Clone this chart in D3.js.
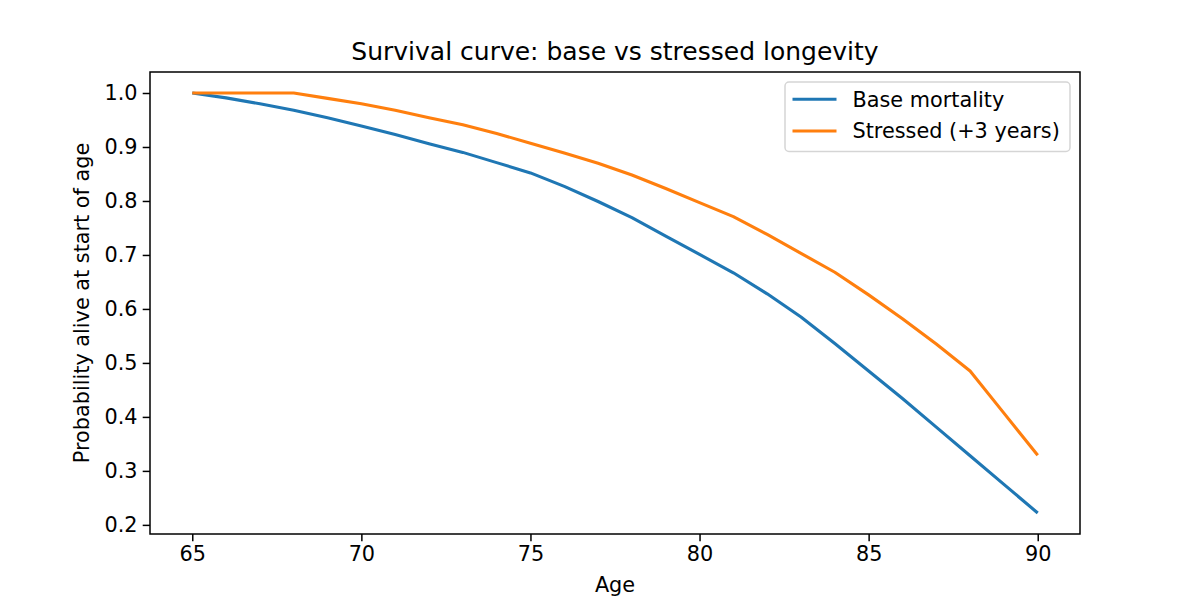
<!DOCTYPE html>
<html>
<head>
<meta charset="utf-8">
<script src="https://cdn.jsdelivr.net/npm/d3@7"></script>
<style>
	body { margin: 0; background: #fff; }
	svg { font-family: 'DejaVu Sans', sans-serif; }
</style>
</head>
<body>
<svg></svg>
<script>
const ages = [65, 66, 67, 68, 69, 70, 71, 72, 73, 74, 75, 76, 77, 78, 79, 80, 81, 82, 83, 84, 85, 86, 87, 88, 89, 90]

const baseSurvival = [1.000, 0.991, 0.980, 0.968, 0.954, 0.939, 0.923, 0.906, 0.890, 0.871, 0.852, 0.827,
	0.799, 0.769, 0.735, 0.701, 0.667, 0.628, 0.585, 0.536, 0.485, 0.434, 0.381, 0.328, 0.275, 0.222]

const stressedSurvival = [1.000, 1.000, 1.000, 1.000, 0.990, 0.980, 0.968, 0.954, 0.941, 0.925, 0.907, 0.889,
	0.870, 0.848, 0.823, 0.797, 0.771, 0.738, 0.703, 0.668, 0.626, 0.582, 0.535, 0.485, 0.407, 0.329]

const xTicks = [65, 70, 75, 80, 85, 90]
const yTicks = [0.2, 0.3, 0.4, 0.5, 0.6, 0.7, 0.8, 0.9, 1.0]

const seriesNames = ['Base mortality', 'Stressed (+3 years)']
const colors = ['#1f77b4', '#ff7f0e']

const width = 1200,
	height = 600,
	margin = { left: 150, right: 120, top: 72, bottom: 66 },
	fontSize = 20.8,
	lineW = 3.1

const series = [baseSurvival, stressedSurvival].map((vals, i) => ({
	name: seriesNames[i],
	color: colors[i],
	points: ages.map((a, j) => ({ age: a, p: vals[j] }))
}))

// 5% padding on both axes, like matplotlib's default margins
const xExt = d3.extent(ages)
const xPad = (xExt[1] - xExt[0]) * 0.05
const yExt = d3.extent(baseSurvival.concat(stressedSurvival))
const yPad = (yExt[1] - yExt[0]) * 0.05

const x = d3
	.scaleLinear()
	.domain([xExt[0] - xPad, xExt[1] + xPad])
	.range([margin.left, width - margin.right])

const y = d3
	.scaleLinear()
	.domain([yExt[0] - yPad, yExt[1] + yPad])
	.range([height - margin.bottom, margin.top])

const svg = d3.select('svg')
	.attr('width', width)
	.attr('height', height)

const line = d3.line()
	.x(d => x(d.age))
	.y(d => y(d.p))

svg.append('g')
	.selectAll('path')
	.data(series)
	.enter()
	.append('path')
	.attr('fill', 'none')
	.attr('stroke', d => d.color)
	.attr('stroke-width', lineW)
	.attr('stroke-linejoin', 'round')
	.attr('stroke-linecap', 'butt')
	.attr('d', d => line(d.points))

const xAxis = svg.append('g')
	.attr('transform', 'translate(0,' + (height - margin.bottom) + ')')
	.call(d3.axisBottom(x).tickValues(xTicks).tickFormat(d3.format('d')).tickSize(7.3).tickPadding(5.2))

const yAxis = svg.append('g')
	.attr('transform', 'translate(' + margin.left + ',0)')
	.call(d3.axisLeft(y).tickValues(yTicks).tickFormat(d3.format('.1f')).tickSize(7.3).tickPadding(5.2))

;[xAxis, yAxis].forEach(g => {
	g.select('.domain').remove()
	g.selectAll('line').attr('stroke', '#000').attr('stroke-width', 1.5)
	g.selectAll('text').attr('fill', '#000').style('font-size', fontSize + 'px').style('font-family', 'DejaVu Sans')
})

// frame
svg.append('rect')
	.attr('x', margin.left)
	.attr('y', margin.top)
	.attr('width', width - margin.left - margin.right)
	.attr('height', height - margin.top - margin.bottom)
	.attr('fill', 'none')
	.attr('stroke', '#000')
	.attr('stroke-width', 1.5)

svg.append('text')
	.attr('x', (margin.left + width - margin.right) / 2)
	.attr('y', 59.5)
	.attr('text-anchor', 'middle')
	.style('font-size', '25px')
	.text('Survival curve: base vs stressed longevity')

svg.append('text')
	.attr('x', (margin.left + width - margin.right) / 2)
	.attr('y', 592)
	.attr('text-anchor', 'middle')
	.style('font-size', fontSize + 'px')
	.text('Age')

svg.append('text')
	.attr('transform', 'translate(89,' + ((margin.top + height - margin.bottom) / 2) + ') rotate(-90)')
	.attr('text-anchor', 'middle')
	.style('font-size', fontSize + 'px')
	.text('Probability alive at start of age')

// legend
const legend = svg.append('g')
	.attr('transform', 'translate(785,82)')

legend.append('rect')
	.attr('width', 285)
	.attr('height', 69.5)
	.attr('rx', 4)
	.attr('fill', '#fff')
	.attr('fill-opacity', 0.8)
	.attr('stroke', '#d5d5d5')
	.attr('stroke-width', 1.5)

const item = legend.selectAll('g.item')
	.data(series)
	.enter()
	.append('g')
	.attr('class', 'item')
	.attr('transform', (d, i) => 'translate(0,' + (17.3 + i * 31.7) + ')')

item.append('line')
	.attr('x1', 7.5)
	.attr('x2', 51.5)
	.attr('stroke', d => d.color)
	.attr('stroke-width', lineW)

item.append('text')
	.attr('x', 67.5)
	.attr('dy', '0.35em')
	.style('font-size', fontSize + 'px')
	.text(d => d.name)
</script>
</body>
</html>
